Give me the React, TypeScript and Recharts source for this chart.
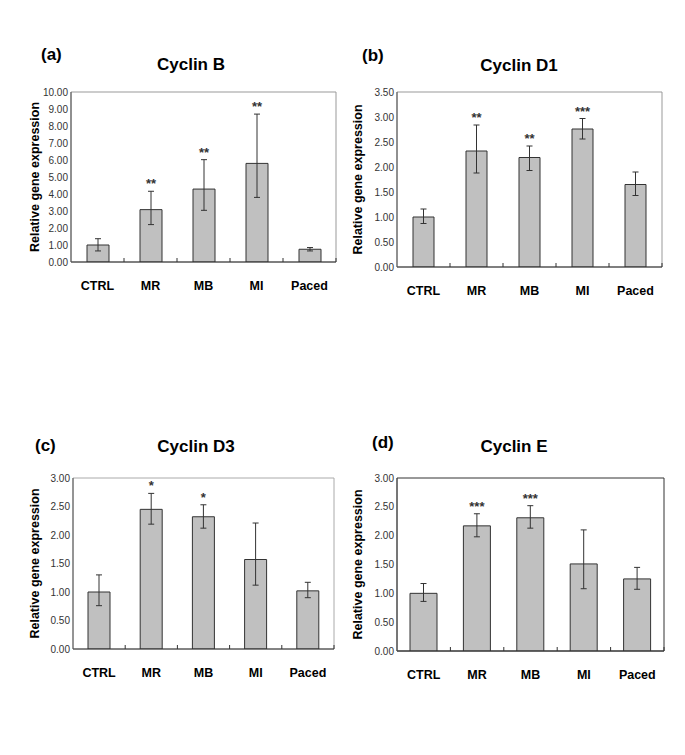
import React from "react";
import { BarChart, Bar, XAxis, YAxis, ErrorBar, LabelList, ReferenceArea } from "recharts";

const FONT = '"Liberation Sans", Arial, sans-serif';

// shared categories
const categories = ["CTRL", "MR", "MB", "MI", "Paced"];

// (a) Cyclin B
const cyclinBValues = [1.0, 3.08, 4.29, 5.8, 0.75];
const cyclinBErrLow = [0.35, 0.88, 1.25, 2.0, 0.1];
const cyclinBErrHigh = [0.37, 1.08, 1.73, 2.9, 0.1];
const cyclinBSig = ["", "**", "**", "**", ""];
const cyclinBTicks = [0, 1, 2, 3, 4, 5, 6, 7, 8, 9, 10];

// (b) Cyclin D1
const cyclinD1Values = [1.0, 2.32, 2.19, 2.76, 1.65];
const cyclinD1ErrLow = [0.13, 0.44, 0.26, 0.2, 0.22];
const cyclinD1ErrHigh = [0.16, 0.52, 0.23, 0.21, 0.25];
const cyclinD1Sig = ["", "**", "**", "***", ""];
const cyclinD1Ticks = [0, 0.5, 1, 1.5, 2, 2.5, 3, 3.5];

// (c) Cyclin D3
const cyclinD3Values = [1.0, 2.45, 2.32, 1.57, 1.02];
const cyclinD3ErrLow = [0.24, 0.26, 0.2, 0.45, 0.12];
const cyclinD3ErrHigh = [0.3, 0.28, 0.21, 0.64, 0.15];
const cyclinD3Sig = ["", "*", "*", "", ""];
const cyclinD3Ticks = [0, 0.5, 1, 1.5, 2, 2.5, 3];

// (d) Cyclin E
const cyclinEValues = [1.0, 2.17, 2.31, 1.51, 1.25];
const cyclinEErrLow = [0.14, 0.19, 0.18, 0.43, 0.18];
const cyclinEErrHigh = [0.17, 0.21, 0.21, 0.59, 0.2];
const cyclinESig = ["", "***", "***", "", ""];
const cyclinETicks = [0, 0.5, 1, 1.5, 2, 2.5, 3];

const X_AXIS_HEIGHT = 30;

interface PanelProps {
  letter: string;
  title: string;
  values: number[];
  errLow: number[];
  errHigh: number[];
  sig: string[];
  ticks: number[];
  left: number;
  top: number;
  width: number;
  height: number;
  margin: { top: number; right: number; bottom: number; left: number };
  yAxisWidth: number;
  labelOffset: number;
  barSize: number;
  frameColor: string;
  titleX: number;
  titleY: number;
  letterX: number;
  letterY: number;
}

function Panel(p: PanelProps) {
  const data = categories.map((name, i) => ({
    name,
    value: p.values[i],
    err: [p.errLow[i], p.errHigh[i]],
    sig: p.sig[i],
  }));
  const yMax = p.ticks[p.ticks.length - 1];
  const plotWidth = p.width - p.margin.left - p.margin.right - p.yAxisWidth;
  const band = plotWidth / categories.length;

  const renderTick = (props: any) => {
    const { x, y, payload } = props;
    return (
      <g>
        <line x1={x + band / 2} x2={x + band / 2} y1={y} y2={y - 4} stroke="#333" />
        <text
          x={x}
          y={y + 28}
          textAnchor="middle"
          fontFamily={FONT}
          fontWeight="bold"
          fontSize={12.5}
          fill="#000"
        >
          {payload.value}
        </text>
      </g>
    );
  };

  // asterisks sit just above the upper error bar
  const renderSig = (props: any) => {
    const vb = props.viewBox || props;
    const x = vb.x ?? props.x;
    const y = vb.y ?? props.y;
    const w = vb.width ?? props.width;
    const h = vb.height ?? props.height;
    const row = data[props.index];
    if (!row || !row.sig) return null;
    const pxPerUnit = h / row.value;
    const errTop = y - row.err[1] * pxPerUnit;
    return (
      <text
        x={x + w / 2}
        y={errTop - 3}
        textAnchor="middle"
        fontFamily={FONT}
        fontWeight="bold"
        fontSize={13}
        fill="#333"
      >
        {row.sig}
      </text>
    );
  };

  return (
    <>
      <div
        style={{
          position: "absolute",
          left: p.letterX,
          top: p.letterY - 10,
          fontFamily: FONT,
          fontWeight: "bold",
          fontSize: 17,
          lineHeight: "20px",
        }}
      >
        {p.letter}
      </div>
      <div
        style={{
          position: "absolute",
          left: p.titleX - 100,
          width: 200,
          top: p.titleY - 10,
          textAlign: "center",
          fontFamily: FONT,
          fontWeight: "bold",
          fontSize: 17,
          lineHeight: "20px",
        }}
      >
        {p.title}
      </div>
      <div style={{ position: "absolute", left: p.left, top: p.top }}>
        <BarChart width={p.width} height={p.height} data={data} margin={p.margin}>
          <ReferenceArea y1={0} y2={yMax} fill="none" stroke={p.frameColor} strokeWidth={1} />
          <XAxis
            dataKey="name"
            height={X_AXIS_HEIGHT}
            axisLine={{ stroke: "#333" }}
            tickLine={false}
            tickSize={0}
            tickMargin={0}
            interval={0}
            tick={renderTick}
          />
          <YAxis
            width={p.yAxisWidth}
            domain={[0, yMax]}
            ticks={p.ticks}
            allowDataOverflow
            axisLine={{ stroke: "#555" }}
            tickLine={false}
            tickSize={3}
            tickMargin={0}
            tickFormatter={(v: number) => v.toFixed(2)}
            tick={{ fontFamily: FONT, fontSize: 10, fill: "#333" }}
            label={{
              value: "Relative gene expression",
              angle: -90,
              position: "insideLeft",
              offset: p.labelOffset,
              style: {
                textAnchor: "middle",
                fontFamily: FONT,
                fontWeight: "bold",
                fontSize: 12.5,
                fill: "#000",
              },
            }}
          />
          <Bar
            dataKey="value"
            fill="#c0c0c0"
            stroke="#333"
            strokeWidth={1}
            barSize={p.barSize}
            isAnimationActive={false}
          >
            <ErrorBar
              dataKey="err"
              direction="y"
              width={3}
              stroke="#333"
              strokeWidth={1}
              isAnimationActive={false}
            />
            <LabelList dataKey="sig" content={renderSig} />
          </Bar>
        </BarChart>
      </div>
    </>
  );
}

export default function App() {
  return (
    <div
      style={{
        position: "absolute",
        left: 0,
        top: 0,
        width: 685,
        height: 755,
        background: "#fff",
        fontFamily: FONT,
      }}
    >
      <Panel
        letter="(a)"
        title="Cyclin B"
        values={cyclinBValues}
        errLow={cyclinBErrLow}
        errHigh={cyclinBErrHigh}
        sig={cyclinBSig}
        ticks={cyclinBTicks}
        left={10}
        top={80}
        width={335}
        height={220}
        margin={{ top: 12, right: 9, bottom: 38 - X_AXIS_HEIGHT, left: 0 }}
        yAxisWidth={61}
        labelOffset={25}
        barSize={22}
        frameColor="#999"
        titleX={191}
        titleY={65}
        letterX={41}
        letterY={55}
      />
      <Panel
        letter="(b)"
        title="Cyclin D1"
        values={cyclinD1Values}
        errLow={cyclinD1ErrLow}
        errHigh={cyclinD1ErrHigh}
        sig={cyclinD1Sig}
        ticks={cyclinD1Ticks}
        left={340}
        top={80}
        width={330}
        height={225}
        margin={{ top: 12, right: 8, bottom: 38 - X_AXIS_HEIGHT, left: 0 }}
        yAxisWidth={57}
        labelOffset={18}
        barSize={21}
        frameColor="#999"
        titleX={519}
        titleY={66}
        letterX={362}
        letterY={56}
      />
      <Panel
        letter="(c)"
        title="Cyclin D3"
        values={cyclinD3Values}
        errLow={cyclinD3ErrLow}
        errHigh={cyclinD3ErrHigh}
        sig={cyclinD3Sig}
        ticks={cyclinD3Ticks}
        left={10}
        top={465}
        width={330}
        height={222}
        margin={{ top: 13, right: 6, bottom: 38 - X_AXIS_HEIGHT, left: 0 }}
        yAxisWidth={63}
        labelOffset={25}
        barSize={22}
        frameColor="#aaa"
        titleX={196}
        titleY={447}
        letterX={35}
        letterY={446}
      />
      <Panel
        letter="(d)"
        title="Cyclin E"
        values={cyclinEValues}
        errLow={cyclinEErrLow}
        errHigh={cyclinEErrHigh}
        sig={cyclinESig}
        ticks={cyclinETicks}
        left={340}
        top={465}
        width={330}
        height={224}
        margin={{ top: 13, right: 6, bottom: 38 - X_AXIS_HEIGHT, left: 0 }}
        yAxisWidth={57}
        labelOffset={18}
        barSize={27}
        frameColor="#333"
        titleX={514}
        titleY={447}
        letterX={372}
        letterY={443}
      />
    </div>
  );
}
